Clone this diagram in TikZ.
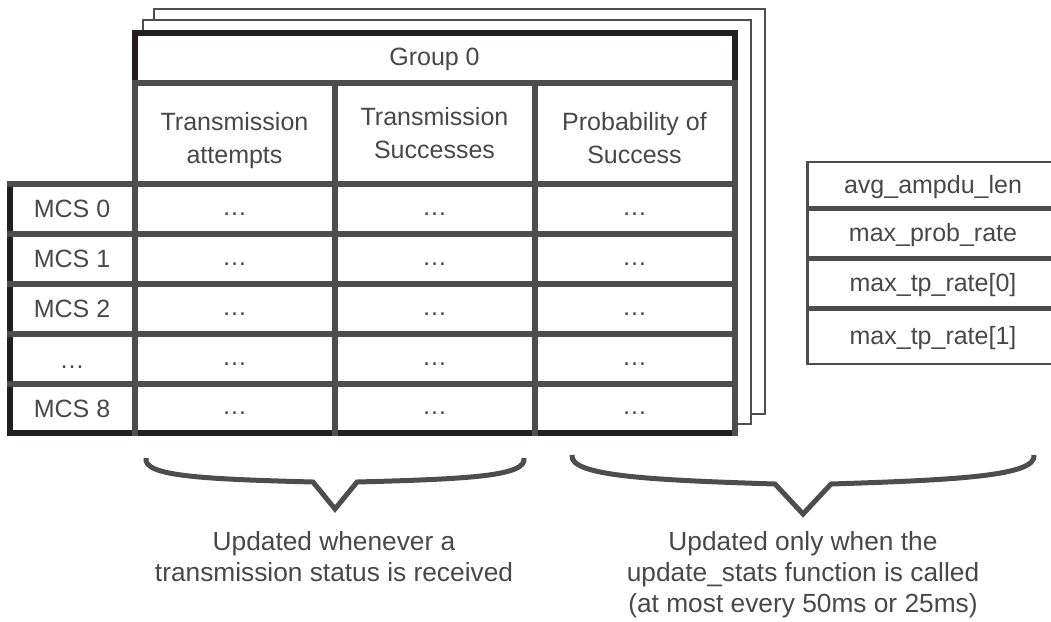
\documentclass[tikz,border=0pt]{standalone}
\usepackage{fontspec}
\setmainfont{Liberation Sans}
\definecolor{lg}{RGB}{77,77,77}
\definecolor{fr}{RGB}{35,31,32}
\definecolor{tx}{RGB}{72,72,72}
\begin{document}
\begin{tikzpicture}[x=1pt,y=-1pt,
  txt/.style={font=\fontsize{25}{33}\selectfont, text=tx, align=center, inner sep=0pt},
  btxt/.style={font=\fontsize{26.3}{31}\selectfont, text=tx, align=center, inner sep=0pt},
  gridline/.style={draw=lg, line width=6pt, line cap=rect},
  frameline/.style={draw=fr, line width=6pt, line cap=rect},
  sheet/.style={draw=lg, line width=2.5pt, fill=white},
  bracepath/.style={draw=lg, line width=5pt, line join=miter}]
\useasboundingbox (0,0) rectangle (1051,621);
\clip (0,0) rectangle (1051,621);
% stacked sheets
\draw[sheet] (154,9) rectangle (765,414);
\draw[sheet] (143,20) rectangle (751,424);
% main table
\fill[white] (134.5,33) rectangle (734.5,433);
\fill[white] (10,184) rectangle (134.5,433);
\draw[frameline] (134.5,83) -- (134.5,33) -- (734.5,33) -- (734.5,83);
\draw[frameline] (10,184) -- (10,433) -- (734.5,433);
\draw[gridline] (134.5,83) -- (734.5,83);
\foreach \yy in {184,234,284,334,384} \draw[gridline] (10,\yy) -- (734.5,\yy);
\foreach \xx in {134.5,334.5,534.5,734.5} \draw[gridline] (\xx,83) -- (\xx,433);
% texts
\node[txt] (g0) at (434.5,59) {Group 0};
\node[txt] (h1) at (234.5,141) {Transmission\\attempts};
\node[txt] (h2) at (434.5,133) {Transmission\\Successes};
\node[txt] (h3) at (634.5,138) {Probability of\\Success};
\node[txt] (m0) at (72,209) {MCS 0};
\node[txt] (m1) at (72,259) {MCS 1};
\node[txt] (m2) at (72,309) {MCS 2};
\node[txt] (m3) at (72,367) {…};
\node[txt] (m8) at (72,408.5) {MCS 8};
\foreach \yy/\nm in {209/a,259/b,309/c,359/d,408.5/e}{
  \node[txt] (c1\nm) at (234.5,\yy+5) {…};
  \node[txt] (c2\nm) at (434.5,\yy+5) {…};
  \node[txt] (c3\nm) at (634.5,\yy+5) {…};
}
% right box
\draw[lg, line width=2.5pt] (807.5,162) rectangle (1060,364);
\foreach \yy in {208.5,258,308} \draw[lg, line width=5pt] (807.5,\yy) -- (1060,\yy);
\node[txt] (r0) at (933,187) {avg\_ampdu\_len};
\node[txt] (r1) at (933,235) {max\_prob\_rate};
\node[txt] (r2) at (933,285) {max\_tp\_rate[0]};
\node[txt] (r3) at (933,338) {max\_tp\_rate[1]};
% braces
\draw[bracepath] (146,458) .. controls (143,476) and (200,479) .. (313,482) -- (335,509) -- (357,482) .. controls (470,479) and (527,476) .. (524,458);
\draw[bracepath] (572,455) .. controls (569,476) and (650,480) .. (775,484) -- (803,514) -- (831,484) .. controls (956,480) and (1037,476) .. (1034,455);
% captions
\node[btxt] (cl) at (334,556.5) {Updated whenever a\\transmission status is received};
\node[btxt] (cr) at (803,575) {Updated only when the\\update\_stats function is called\\(at most every 50ms or 25ms)};
\end{tikzpicture}
\end{document}
